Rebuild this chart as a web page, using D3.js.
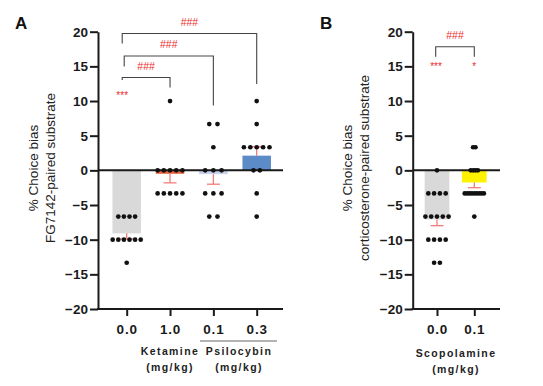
<!DOCTYPE html>
<html>
<head>
<meta charset="utf-8">
<script src="https://cdn.jsdelivr.net/npm/d3@7"></script>
<style>
  html, body { margin: 0; padding: 0; background: #fff; }
  svg { display: block; }
  text { font-family: "Liberation Sans", Arial, Helvetica, sans-serif; }
</style>
</head>
<body>
<svg id="chart" width="543" height="386"></svg>
<script>
// ---------------- DATA ----------------
// Panel A
const catsA = ["0.0", "1.0", "0.1", "0.3"];
const meansA = [-9.09, -0.5, -0.55, 2.12];
const semA = [0.8, 1.3, 1.45, 1.3];
const colorsA = ["#d9d9da", "#ea6340", "#c9d1ec", "#5b8cc8"];
// individual data points (value, count) per group
const pointsA0 = [[-6.67, 4], [-10, 6], [-13.33, 1]];
const pointsA1 = [[10, 1], [0, 5], [-3.33, 5]];
const pointsA2 = [[6.67, 2], [3.33, 1], [0, 3], [-3.33, 3], [-6.67, 2]];
const pointsA3 = [[10, 1], [6.67, 1], [3.33, 5], [0, 2], [-3.33, 1], [-6.67, 1]];
const pointsA = [pointsA0, pointsA1, pointsA2, pointsA3];

// Panel B
const catsB = ["0.0", "0.1"];
const meansB = [-7.08, -1.75];
const semB = [0.9, 0.75];
const colorsB = ["#d9d9da", "#fff200"];
const pointsB0 = [[0, 1], [-3.33, 4], [-6.67, 5], [-10, 4], [-13.33, 2]];
const pointsB1 = [[3.33, 2], [0, 4], [-3.33, 9], [-6.67, 1]];
const pointsB = [pointsB0, pointsB1];

const yTicks = [-20, -15, -10, -5, 0, 5, 10, 15, 20];

// ---------------- LAYOUT ----------------
const svg = d3.select("#chart");
const RED = "#ee2a2a";
const ERR = "#f47b7b";
const AX = "#1a1a1a";

const y = d3.scaleLinear().domain([-20, 20]).range([309, 31.7]);

function drawPanel(o) {
  const g = svg.append("g");
  const x = d3.scalePoint().domain(o.cats).range(o.xr);

  // y axis
  const yAxis = d3.axisLeft(y).tickValues(yTicks).tickSize(8).tickSizeOuter(0).tickPadding(2)
    .tickFormat(d => d < 0 ? "\u2212" + Math.abs(d) : String(d));
  const ya = g.append("g").attr("transform", `translate(${o.x0},0)`).call(yAxis);
  ya.select(".domain").attr("stroke", AX).attr("stroke-width", 2);
  ya.selectAll(".tick line").attr("stroke", AX).attr("stroke-width", 2);
  ya.selectAll(".tick text").attr("fill", AX).attr("font-size", 13.5).attr("font-weight", "bold")
    .attr("font-family", "Liberation Sans, Arial, sans-serif");

  // x axis (bottom)
  const xAxis = d3.axisBottom(x).tickSize(7).tickPadding(8).tickSizeOuter(0);
  const xa = g.append("g").attr("transform", `translate(0,${y(-20)})`).call(xAxis);
  xa.select(".domain").remove();
  xa.selectAll(".tick line").attr("stroke", AX).attr("stroke-width", 2);
  xa.selectAll(".tick text").attr("fill", AX).attr("font-size", 13.5).attr("font-weight", "bold")
    .attr("letter-spacing", 0.8)
    .attr("font-family", "Liberation Sans, Arial, sans-serif");
  g.append("line").attr("x1", o.x0 - 1).attr("x2", o.xEnd).attr("y1", y(-20)).attr("y2", y(-20))
    .attr("stroke", AX).attr("stroke-width", 2);

  // bars
  g.selectAll("rect.bar").data(o.cats).join("rect").attr("class", "bar")
    .attr("x", d => x(d) - o.bw / 2).attr("width", o.bw)
    .attr("y", (d, i) => Math.min(y(0), y(o.means[i])))
    .attr("height", (d, i) => Math.abs(y(o.means[i]) - y(0)))
    .attr("fill", (d, i) => o.colors[i]);

  // error bars (one-sided, away from zero)
  o.cats.forEach((c, i) => {
    const m = o.means[i], s = o.sem[i];
    const end = m < 0 ? m - s : m + s;
    g.append("line").attr("x1", x(c)).attr("x2", x(c)).attr("y1", y(m)).attr("y2", y(end))
      .attr("stroke", ERR).attr("stroke-width", 1.3);
    g.append("line").attr("x1", x(c) - 6.5).attr("x2", x(c) + 6.5).attr("y1", y(end)).attr("y2", y(end))
      .attr("stroke", ERR).attr("stroke-width", 1.3);
  });

  // zero line
  g.append("line").attr("x1", o.x0).attr("x2", o.xEnd).attr("y1", y(0)).attr("y2", y(0))
    .attr("stroke", AX).attr("stroke-width", 2);

  // dots
  o.points.forEach((rows, i) => {
    const sp = o.spacing[i];
    rows.forEach(([v, n]) => {
      for (let k = 0; k < n; k++) {
        const off = (k - (n - 1) / 2) * sp;
        g.append("circle").attr("cx", x(o.cats[i]) + off).attr("cy", y(v)).attr("r", 2.35).attr("fill", "#111");
      }
    });
  });
  return {g, x};
}

// ---------- Panel A ----------
const A = drawPanel({
  cats: catsA, means: meansA, sem: semA, colors: colorsA, points: pointsA,
  x0: 98, xEnd: 283, xr: [126.7, 256.7], bw: 28.5, spacing: [5.6, 6.2, 8.2, 6.4]
});
const B = drawPanel({
  cats: catsB, means: meansB, sem: semB, colors: colorsB, points: pointsB,
  x0: 412.7, xEnd: 500, xr: [437, 474.3], bw: 24.7, spacing: [5.8, 2.4]
});

// Panel letters
svg.append("text").attr("x", 15).attr("y", 29).attr("font-size", 17).attr("font-weight", "bold").attr("fill", "#111").text("A");
svg.append("text").attr("x", 320).attr("y", 29).attr("font-size", 17).attr("font-weight", "bold").attr("fill", "#111").text("B");

// y axis titles
function yTitle(xc, l1, l2) {
  const t = svg.append("text").attr("transform", `translate(${xc},168) rotate(-90)`)
    .attr("text-anchor", "middle").attr("font-size", 13.5).attr("fill", "#222");
  t.append("tspan").attr("x", 0).attr("y", 0).text(l1);
  t.append("tspan").attr("x", 0).attr("y", 17).text(l2);
}
yTitle(38, "% Choice bias", "FG7142-paired substrate");
yTitle(351.5, "% Choice bias", "corticosterone-paired substrate");

// group labels
function groupLabel(xc, yb, l1) {
  svg.append("text").attr("x", xc).attr("y", yb).attr("text-anchor", "middle").attr("font-size", 10.5)
    .attr("font-weight", "bold").attr("letter-spacing", 1.4).attr("fill", "#222").text(l1);
  svg.append("text").attr("x", xc).attr("y", yb + 15.5).attr("text-anchor", "middle").attr("font-size", 10.5)
    .attr("font-weight", "bold").attr("letter-spacing", 1.4).attr("fill", "#222").text("(mg/kg)");
}
groupLabel(170, 355, "Ketamine");
groupLabel(239, 355, "Psilocybin");
groupLabel(456, 357, "Scopolamine");
svg.append("line").attr("x1", 200).attr("x2", 277).attr("y1", 341).attr("y2", 341)
  .attr("stroke", "#9a9a9a").attr("stroke-width", 1.5);

// significance brackets
function bracket(x1, x2, yTop, yL, yR, label) {
  svg.append("path").attr("d", `M${x1},${yL}V${yTop}H${x2}V${yR}`)
    .attr("fill", "none").attr("stroke", "#444").attr("stroke-width", 1.1);
  svg.append("text").attr("x", (x1 + x2) / 2).attr("y", yTop - 8).attr("text-anchor", "middle")
    .attr("font-size", 10.5).attr("fill", RED).text(label);
}
const xA = A.x, xB = B.x;
bracket(xA("0.0") - 4.5, xA("1.0"), 77.5, 80, 87.5, "###");
bracket(xA("0.0") - 2.5, xA("0.1"), 56, 66.5, 105.5, "###");
bracket(xA("0.0") - 4.5, xA("0.3"), 33.5, 43.5, 84, "###");
bracket(xB("0.0") - 1.3, xB("0.1"), 46.7, 56.7, 56.7, "###");

function stars(xc, yb, s) {
  svg.append("text").attr("x", xc).attr("y", yb).attr("text-anchor", "middle")
    .attr("font-size", 10).attr("fill", RED).text(s);
}
stars(xA("0.0") - 4.5, 98.5, "***");
stars(xB("0.0") - 1, 69.5, "***");
stars(xB("0.1"), 69.5, "*");
</script>
</body>
</html>
